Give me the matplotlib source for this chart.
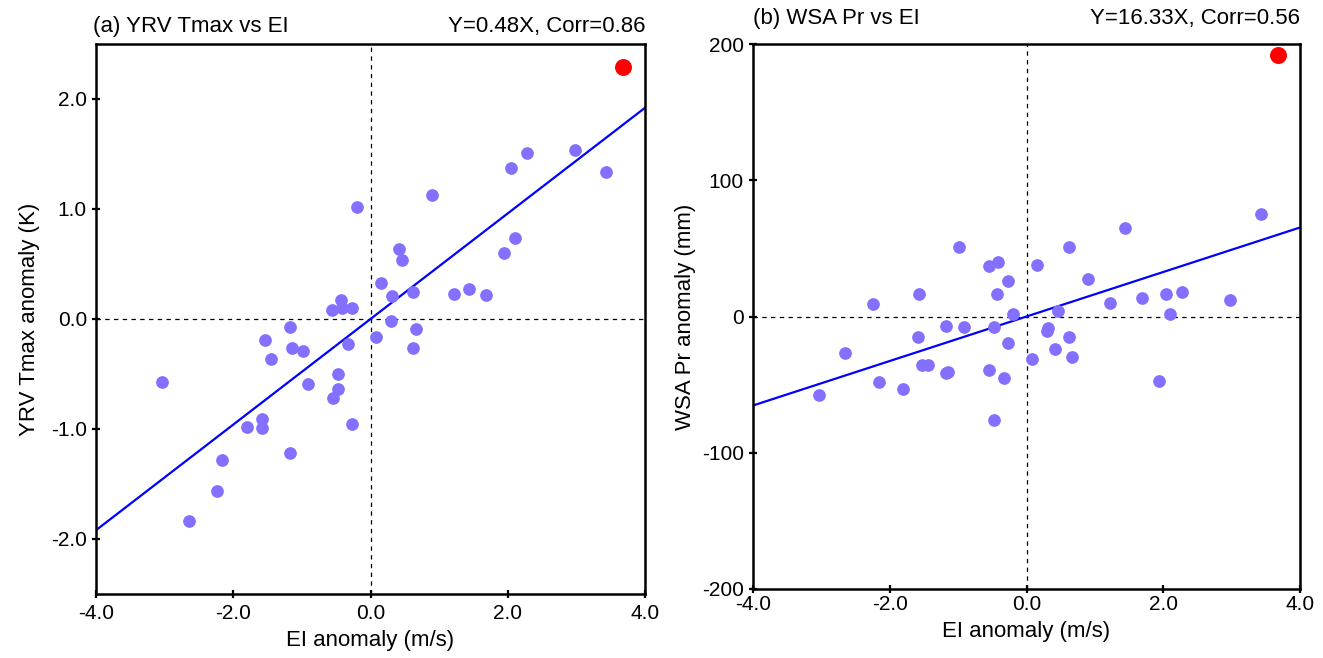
import numpy as np
import matplotlib
matplotlib.use('Agg')
import matplotlib.pyplot as plt
from matplotlib.ticker import FormatStrFormatter

plt.rcParams['font.family'] = ['Liberation Sans', 'DejaVu Sans']
plt.rcParams['axes.unicode_minus'] = False

# EI anomaly (m/s), shared by both panels
ei = [-3.04, -2.65, -2.24, -2.16, -1.80, -1.585, -1.575, -1.535, -1.445, -1.18,
      -1.18, -1.145, -0.99, -0.915, -0.555, -0.55, -0.48, -0.48, -0.43, -0.41,
      -0.33, -0.265, -0.265, -0.20, 0.085, 0.15, 0.305, 0.315, 0.415, 0.465,
      0.615, 0.615, 0.66, 0.895, 1.215, 1.435, 1.69, 1.945, 2.045, 2.105,
      2.275, 2.98, 3.435]
# YRV Tmax anomaly (K)
tmax = [-0.57, -1.84, -1.56, -1.28, -0.98, -0.99, -0.91, -0.19, -0.36, -0.07,
        -1.22, -0.26, -0.29, -0.59, 0.085, -0.72, -0.50, -0.64, 0.17, 0.10,
        -0.23, 0.10, -0.95, 1.02, -0.16, 0.33, -0.02, 0.21, 0.64, 0.54,
        0.25, -0.26, -0.09, 1.13, 0.23, 0.27, 0.22, 0.60, 1.37, 0.74,
        1.51, 1.54, 1.34]
# WSA Pr anomaly (mm)
pr = [-57.8, -26.5, 9.1, -48.0, -52.9, -15.0, 16.2, -35.8, -35.8, -7.1,
      -41.4, -40.7, 50.7, -7.4, 36.8, -39.2, -7.6, -76.2, 16.4, 40.2,
      -45.3, 26.2, -19.6, 1.7, -30.9, 38.0, -10.8, -8.3, -24.0, 3.7,
      51.2, -15.2, -29.7, 27.5, 9.8, 65.2, 13.5, -47.5, 16.4, 2.2,
      17.9, 12.3, 75.0]
# highlighted year (red dot)
ei_hl = 3.675
tmax_hl = 2.29
pr_hl = 191.7

slope_t = 0.48
slope_p = 16.33

fig = plt.figure(figsize=(13.23, 6.58), dpi=100)
ax1 = fig.add_axes([96/1323, 1-594/658, 549/1323, 550/658])
ax2 = fig.add_axes([753/1323, 1-589/658, 547/1323, 545/658])

dot = '#8470ff'
xl = np.array([-4, 4])

def style(ax, yticks, fmt):
    ax.set_xlim(-4, 4)
    ax.axhline(0, color='black', lw=0.9, ls=(0, (3.5, 3.5)), zorder=1)
    ax.axvline(0, color='black', lw=0.9, ls=(0, (3.5, 3.5)), zorder=1)
    ax.set_xticks([-4, -2, 0, 2, 4])
    ax.set_yticks(yticks)
    ax.xaxis.set_major_formatter(FormatStrFormatter('%.1f'))
    ax.yaxis.set_major_formatter(FormatStrFormatter(fmt))
    ax.tick_params(direction='inout', length=6, width=1.6, labelsize=15)
    for s in ax.spines.values():
        s.set_linewidth(1.8)
    ax.set_xlabel('EI anomaly (m/s)', fontsize=16, labelpad=5)

# (a)
ax1.scatter(ei, tmax, s=66, color=dot, zorder=3)
ax1.scatter([ei_hl], [tmax_hl], s=125, color='red', zorder=4)
ax1.plot(xl, slope_t * xl, color='blue', lw=1.6, zorder=2)
ax1.set_ylim(-2.5, 2.5)
style(ax1, [-2, -1, 0, 1, 2], '%.1f')
ax1.set_ylabel('YRV Tmax anomaly (K)', fontsize=16, labelpad=8)
ax1.tick_params(axis='x', pad=4)
ax1.text(-0.005, 1.012, '(a) YRV Tmax vs EI', transform=ax1.transAxes,
         fontsize=16, ha='left', va='bottom')
ax1.text(1.0, 1.012, 'Y=0.48X, Corr=0.86', transform=ax1.transAxes,
         fontsize=16, ha='right', va='bottom')

# (b)
ax2.scatter(ei, pr, s=66, color=dot, zorder=3)
ax2.scatter([ei_hl], [pr_hl], s=125, color='red', zorder=4)
ax2.plot(xl, slope_p * xl, color='blue', lw=1.6, zorder=2)
ax2.set_ylim(-200, 200)
style(ax2, [-200, -100, 0, 100, 200], '%d')
ax2.set_ylabel('WSA Pr anomaly (mm)', fontsize=16, labelpad=4)
ax2.tick_params(axis='x', pad=1)
ax2.text(0.0, 1.028, '(b) WSA Pr vs EI', transform=ax2.transAxes,
         fontsize=16, ha='left', va='bottom')
ax2.text(1.0, 1.028, 'Y=16.33X, Corr=0.56', transform=ax2.transAxes,
         fontsize=16, ha='right', va='bottom')

fig.savefig('out.png', dpi=100)
